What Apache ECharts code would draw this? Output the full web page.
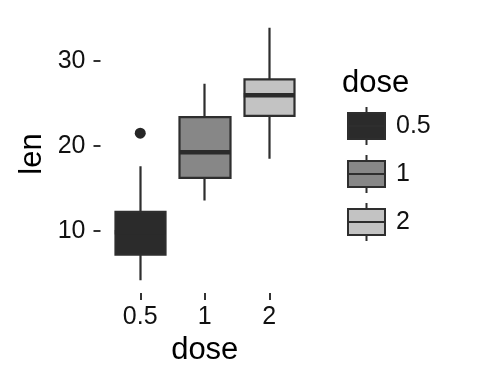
<!DOCTYPE html>
<html><head><meta charset="utf-8">
<script src="https://cdn.jsdelivr.net/npm/echarts@6/dist/echarts.min.js"></script>
<style>html,body{margin:0;padding:0;background:#fff}#c{width:480px;height:384px}</style>
</head><body><div id="c"></div>
<script>
const categories = ['0.5', '1', '2'];
const mins = [4.2, 13.6, 18.5];
const q1s = [7.225, 16.25, 23.525];
const medians = [9.85, 19.25, 25.95];
const q3s = [12.25, 23.375, 27.825];
const maxs = [17.6, 27.3, 33.9];
const outliers = [[0, 21.5]];
const fills = ['#2b2b2b', '#878787', '#c3c3c3'];
const yTicks = [10, 20, 30];

const FONT = 'Liberation Sans, Arial, Helvetica, sans-serif';
const iconPath = 'path://M0,6H37V32H0Z M18.5,0V6 M18.5,32V38 M0,19H37';

const chart = echarts.init(document.getElementById('c'));
chart.setOption({
  animation: false,
  textStyle: { fontFamily: FONT },
  title: { text: 'dose', left: 342, top: 68, padding: 0, textStyle: { fontSize: 31, fontWeight: 'normal', color: '#000', fontFamily: FONT } },
  legend: {
    orient: 'vertical', left: 347, top: 106, padding: 0, itemWidth: 37, itemHeight: 38, itemGap: 8,
    textStyle: { fontSize: 25, color: '#111', fontFamily: FONT, padding: [0, 0, 0, 6] },
    data: categories.map((c, i) => ({ name: c, icon: iconPath, itemStyle: { color: fills[i], borderColor: '#2e2e2e', borderWidth: 2, opacity: 1 } }))
  },
  grid: { left: 108, top: 15, width: 193.5, height: 278 },
  xAxis: {
    type: 'category', data: categories, name: 'dose', nameLocation: 'middle', nameGap: 42,
    nameTextStyle: { fontSize: 31, color: '#000', fontFamily: FONT },
    axisLine: { show: false },
    axisTick: { show: true, alignWithLabel: true, length: 7, lineStyle: { color: '#333', width: 2 } },
    axisLabel: { fontSize: 25, color: '#111', margin: 12, fontFamily: FONT },
    splitLine: { show: false }
  },
  yAxis: {
    type: 'value', min: 2.715, max: 35.385, offset: 7.5,
    name: 'len', nameLocation: 'middle', nameGap: 53,
    nameTextStyle: { fontSize: 31, color: '#000', fontFamily: FONT },
    axisLine: { show: false },
    axisTick: { show: true, length: 7, customValues: yTicks, lineStyle: { color: '#333', width: 2 } },
    axisLabel: { fontSize: 25, color: '#111', margin: 15, customValues: yTicks, fontFamily: FONT },
    splitLine: { show: false }
  },
  series: [
    {
      type: 'candlestick', name: 'box', barWidth: 51,
      data: categories.map((c, i) => ({
        value: [q1s[i], q3s[i], mins[i], maxs[i]],
        itemStyle: { color: fills[i], color0: fills[i], borderColor: '#2e2e2e', borderColor0: '#2e2e2e', borderWidth: 2.2 }
      })),
      z: 2
    },
    {
      type: 'scatter', name: 'median', symbol: 'rect', symbolSize: [51, 4.5],
      itemStyle: { color: '#2b2b2b', opacity: 1 },
      data: categories.map((c, i) => [i, medians[i]]), z: 3
    },
    {
      type: 'scatter', name: 'outlier', symbol: 'circle', symbolSize: 11,
      itemStyle: { color: '#262626', opacity: 1 }, data: outliers, z: 3
    },
    ...categories.map((c, i) => ({ type: 'scatter', name: c, data: [], itemStyle: { color: fills[i], borderColor: '#2e2e2e', borderWidth: 2, opacity: 1 } }))
  ]
});
</script></body></html>
